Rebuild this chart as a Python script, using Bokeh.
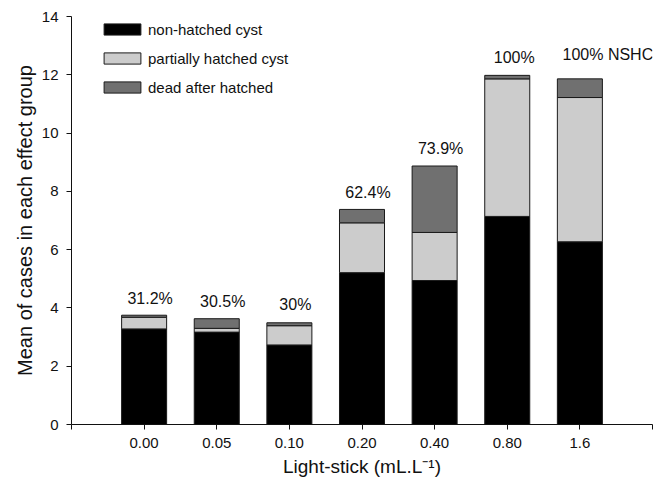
from bokeh.plotting import figure
from bokeh.models import Range1d, FixedTicker, Legend, LegendItem, ColumnDataSource
from bokeh.embed import file_html
from bokeh.resources import INLINE
from bokeh.core.properties import value

concentrations = ["0.00", "0.05", "0.10", "0.20", "0.40", "0.80", "1.6"]
non_hatched = [3.28, 3.17, 2.73, 5.21, 4.94, 7.14, 6.27]
partially_hatched = [0.40, 0.13, 0.66, 1.71, 1.65, 4.72, 4.95]
dead_after_hatched = [0.07, 0.33, 0.10, 0.46, 2.28, 0.12, 0.64]
pct_labels = ["31.2%", "30.5%", "30%", "62.4%", "73.9%", "100%", "100% NSHC"]
y_ticks = [0, 2, 4, 6, 8, 10, 12, 14]

FONT = "Liberation Sans"
n = len(concentrations)
xs = list(range(n))
totals = [a + b + c for a, b, c in zip(non_hatched, partially_hatched, dead_after_hatched)]

src = ColumnDataSource(dict(x=xs, nh=non_hatched, ph=partially_hatched, dh=dead_after_hatched))

p = figure(output_backend="svg", toolbar_location=None,
           frame_width=581, frame_height=408,
           min_border_left=71, min_border_top=16, min_border_right=2, min_border_bottom=60,
           x_range=Range1d(-1, n), y_range=Range1d(0, 14))

rs = p.vbar_stack(["nh", "ph", "dh"], x="x", width=0.62, source=src,
                  fill_color=["#000000", "#cccccc", "#707070"],
                  line_color="#1a1a1a", line_width=1)

lab_src = ColumnDataSource(dict(
    x=xs, y=totals, t=pct_labels,
    xo=[6, 6, 6, 6, 6, 7, 28],
    yo=[-17, -17, -18, -17, -18, -18, -24],
))
p.text(x="x", y="y", text="t", source=lab_src, x_offset="xo", y_offset="yo",
       text_align="center", text_baseline="middle",
       text_font=value(FONT), text_font_size="16px", text_color="#111111")

legend = Legend(items=[
    LegendItem(label="non-hatched cyst", renderers=[rs[0]]),
    LegendItem(label="partially hatched cyst", renderers=[rs[1]]),
    LegendItem(label="dead after hatched", renderers=[rs[2]]),
], location=(28, 327))
legend.glyph_width = 46
legend.glyph_height = 14
legend.label_height = 20
legend.spacing = 9
legend.padding = 0
legend.margin = 0
legend.label_standoff = 3
legend.border_line_color = None
legend.background_fill_alpha = 0
legend.label_text_font = FONT
legend.label_text_font_size = "15px"
legend.label_text_color = "#111111"
p.add_layout(legend)

p.xaxis.ticker = FixedTicker(ticks=list(range(-1, n + 1)))
overrides = {-1: "", n: ""}
for i, c in zip(xs, concentrations):
    overrides[i] = c
p.xaxis.major_label_overrides = overrides
p.yaxis.ticker = FixedTicker(ticks=y_ticks)

for ax in (p.xaxis[0], p.yaxis[0]):
    ax.major_tick_in = 0
    ax.major_tick_out = 5
    ax.minor_tick_line_color = None
    ax.axis_line_color = "#111111"
    ax.major_tick_line_color = "#111111"
    ax.major_label_text_font = FONT
    ax.major_label_text_font_size = "15px"
    ax.major_label_text_color = "#111111"
    ax.axis_label_text_font = FONT
    ax.axis_label_text_font_style = "normal"
    ax.axis_label_text_color = "#111111"
    ax.major_label_standoff = 8

p.xaxis.axis_label = "Light-stick (mL.L\u207b\u00b9)"
p.yaxis.axis_label = "Mean of cases in each effect group"
p.xaxis.axis_label_text_font_size = "19px"
p.yaxis.axis_label_text_font_size = "20px"
p.xaxis.axis_label_standoff = 5
p.yaxis.axis_label_standoff = 3

p.xgrid.visible = False
p.ygrid.visible = False
p.outline_line_color = None

open("out.html", "w").write(file_html(p, INLINE))
